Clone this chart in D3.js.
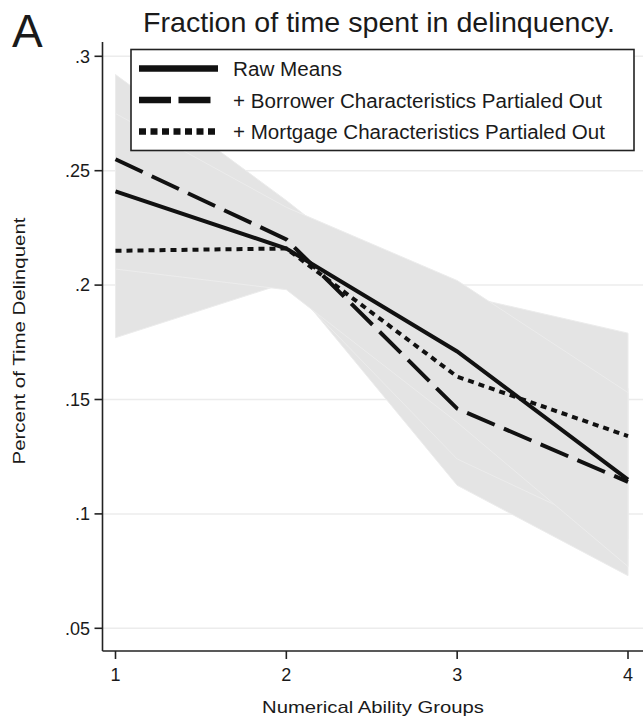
<!DOCTYPE html>
<meta charset="utf-8">
<style>
body { margin: 0; background: #fff; }
svg { display: block; }
text { font-family: "Liberation Sans", Arial, Helvetica, sans-serif; fill: #1a1a1a; }
</style>
<body>
<script src="https://cdn.jsdelivr.net/npm/d3@7"></script>
<script>

// data
let groups = [1, 2, 3, 4];
let rawMeans = [0.241, 0.216, 0.171, 0.115];
let borrower = [0.255, 0.220, 0.146, 0.114];
let mortgage = [0.215, 0.216, 0.160, 0.134];
// confidence bands (grey areas)
let rawLo = [0.207, 0.198, 0.140, 0.077];
let rawHi = [0.275, 0.234, 0.202, 0.153];
let borLo = [0.218, 0.203, 0.1125, 0.073];
let borHi = [0.292, 0.237, 0.178, 0.155];
let morLo = [0.177, 0.201, 0.124, 0.089];
let morHi = [0.253, 0.231, 0.196, 0.179];
let yTicks = [0.05, 0.1, 0.15, 0.2, 0.25, 0.3];
let yTickLabels = [".05", ".1", ".15", ".2", ".25", ".3"];
let legendLabels = ["Raw Means", "+ Borrower Characteristics Partialed Out", "+ Mortgage Characteristics Partialed Out"];

let width = 644, height = 716;

let svg = d3.select("body").append("svg")
	.attr("width", width)
	.attr("height", height);

let x = d3.scaleLinear().domain([1, 4]).range([115.5, 628]);
let y = d3.scaleLinear().domain([0.05, 0.3]).range([628.3, 56.3]);

let axLeft = 102.5, axBottom = 651, axTop = 42, axRight = 643;

// gridlines
svg.append("g").selectAll("line")
	.data(yTicks)
	.enter().append("line")
	.attr("x1", axLeft).attr("x2", axRight)
	.attr("y1", d => y(d)).attr("y2", d => y(d))
	.attr("stroke", "#ececec")
	.attr("stroke-width", 1.5);

// bands
let bands = [[borLo, borHi], [morLo, morHi], [rawLo, rawHi]];
let area = d3.area()
	.x(d => x(d.g))
	.y0(d => y(d.lo))
	.y1(d => y(d.hi));

svg.append("g").selectAll("path")
	.data(bands)
	.enter().append("path")
	.attr("d", b => area(groups.map((g, i) => ({ g: g, lo: b[0][i], hi: b[1][i] }))))
	.attr("fill", "#e4e4e4")
	.attr("stroke", "#ececec")
	.attr("stroke-width", 1);

// lines
let line = d3.line()
	.x((d, i) => x(groups[i]))
	.y(d => y(d));

let series = [
	{ vals: mortgage, dash: "6,5" },
	{ vals: borrower, dash: "30,10" },
	{ vals: rawMeans, dash: null }
];

svg.append("g").selectAll("path")
	.data(series)
	.enter().append("path")
	.attr("d", d => line(d.vals))
	.attr("fill", "none")
	.attr("stroke", "#111")
	.attr("stroke-width", 4)
	.attr("stroke-dasharray", d => d.dash);

// axes
svg.append("line")
	.attr("x1", axLeft).attr("x2", axLeft)
	.attr("y1", axTop).attr("y2", axBottom)
	.attr("stroke", "#222").attr("stroke-width", 1.6);
svg.append("line")
	.attr("x1", axLeft).attr("x2", axRight)
	.attr("y1", axBottom).attr("y2", axBottom)
	.attr("stroke", "#222").attr("stroke-width", 1.6);

let yt = svg.append("g").selectAll("g")
	.data(yTicks)
	.enter().append("g");
yt.append("line")
	.attr("x1", axLeft - 8).attr("x2", axLeft)
	.attr("y1", d => y(d)).attr("y2", d => y(d))
	.attr("stroke", "#222").attr("stroke-width", 1.6);
yt.append("text")
	.attr("x", 90)
	.attr("y", d => y(d))
	.attr("dy", "0.35em")
	.attr("text-anchor", "end")
	.style("font-size", "18px")
	.text((d, i) => yTickLabels[i]);

let xt = svg.append("g").selectAll("g")
	.data(groups)
	.enter().append("g");
xt.append("line")
	.attr("x1", d => x(d)).attr("x2", d => x(d))
	.attr("y1", axBottom).attr("y2", axBottom + 8)
	.attr("stroke", "#222").attr("stroke-width", 1.6);
xt.append("text")
	.attr("x", d => x(d))
	.attr("y", 681)
	.attr("text-anchor", "middle")
	.style("font-size", "18px")
	.text(d => d);

// titles
svg.append("text")
	.attr("x", 143).attr("y", 32)
	.attr("textLength", 472)
	.attr("lengthAdjust", "spacingAndGlyphs")
	.style("font-size", "28px")
	.text("Fraction of time spent in delinquency.");

svg.append("text")
	.attr("x", 12).attr("y", 47)
	.style("font-size", "46px")
	.text("A");

svg.append("text")
	.attr("x", 262).attr("y", 713)
	.attr("textLength", 222)
	.attr("lengthAdjust", "spacingAndGlyphs")
	.style("font-size", "17px")
	.text("Numerical Ability Groups");

svg.append("text")
	.attr("transform", "translate(25,341) rotate(-90)")
	.attr("text-anchor", "middle")
	.attr("textLength", 247)
	.attr("lengthAdjust", "spacingAndGlyphs")
	.style("font-size", "17px")
	.text("Percent of Time Delinquent");

// legend
let legend = svg.append("g");
legend.append("rect")
	.attr("x", 131).attr("y", 49.5)
	.attr("width", 503).attr("height", 101)
	.attr("fill", "#fff")
	.attr("stroke", "#222")
	.attr("stroke-width", 1.6);

let legendRows = [
	{ yy: 68.5, dash: null, x2: 218, tl: 109 },
	{ yy: 100, dash: "32,7.5", x2: 212, tl: 369 },
	{ yy: 131.5, dash: "7,4.5", x2: 218, tl: 372 }
];

legendRows.forEach((r, i) => {
	legend.append("line")
		.attr("x1", 139).attr("x2", r.x2)
		.attr("y1", r.yy).attr("y2", r.yy)
		.attr("stroke", "#111")
		.attr("stroke-width", 6.5)
		.attr("stroke-dasharray", r.dash);
	legend.append("text")
		.attr("x", 233).attr("y", r.yy + 7.5)
		.attr("textLength", r.tl)
		.attr("lengthAdjust", "spacingAndGlyphs")
		.style("font-size", "20px")
		.text(legendLabels[i]);
});

</script>
</body>
